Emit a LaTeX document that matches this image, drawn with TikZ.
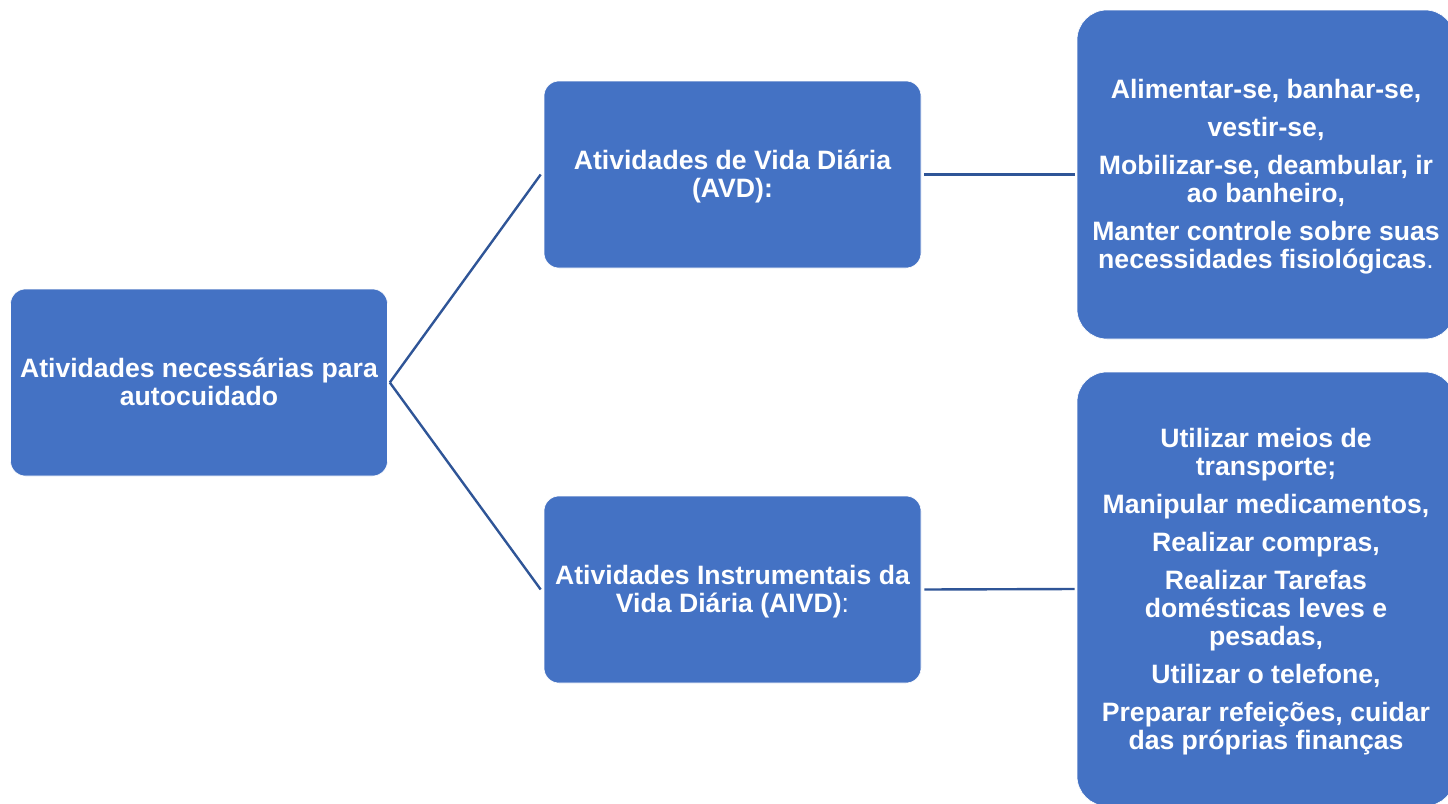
\documentclass[tikz,border=0pt]{standalone}
\usepackage{fontspec}
\setmainfont{Liberation Sans}
\definecolor{boxblue}{HTML}{4472C4}
\definecolor{lineblue}{HTML}{2F5597}
\newcommand\firstst{\rule{0pt}{24pt}}
\newcommand\lastst{\rule[-6pt]{0pt}{6pt}}
\tikzset{
  box/.style={fill=boxblue, draw=white, line width=0.6pt, rounded corners=15pt,
    text=white, font=\bfseries\fontsize{26.6}{28}\selectfont, align=center,
    inner sep=0pt, minimum width=377pt, minimum height=187pt},
  bigbox/.style={box, rounded corners=30pt, minimum width=378pt},
  conn/.style={draw=lineblue, line width=2.4pt}
}
\begin{document}
\begin{tikzpicture}[x=1pt,y=-1pt]
\useasboundingbox (0,0) rectangle (1448,803);
\node[box] (root) at (199,382.5) {\firstst Atividades necessárias para\\autocuidado\lastst};
\node[box] (avd) at (732.5,174.5) {\firstst Atividades de Vida Diária\\(AVD):\lastst};
\node[box] (aivd) at (732.5,589.5) {\firstst Atividades Instrumentais da\\Vida Diária (AIVD){\mdseries:}\lastst};
\node[bigbox, minimum height=329pt] (avdlist) at (1266,174.5) {\firstst Alimentar-se, banhar-se,\\[10pt]
vestir-se,\\[10pt]
Mobilizar-se, deambular, ir\\ao banheiro,\\[10pt]
Manter controle sobre suas\\necessidades fisiológicas{\mdseries.}\lastst};
\node[bigbox, minimum height=434pt] (aivdlist) at (1266,589) {\firstst Utilizar meios de\\transporte;\\[10pt]
Manipular medicamentos,\\[10pt]
Realizar compras,\\[10pt]
Realizar Tarefas\\domésticas leves e\\pesadas,\\[10pt]
Utilizar o telefone,\\[10pt]
Preparar refeições, cuidar\\das próprias finanças\lastst};
\draw[conn] ([xshift=2pt]root.east) -- ([xshift=-3pt]avd.west);
\draw[conn] ([xshift=2pt]root.east) -- ([xshift=-3pt]aivd.west);
\draw[conn] ([xshift=3pt]avd.east) -- ([xshift=-2pt]avdlist.west);
\draw[conn] ([xshift=3pt]aivd.east) -- ([xshift=-2pt]aivdlist.west);
\end{tikzpicture}
\end{document}
